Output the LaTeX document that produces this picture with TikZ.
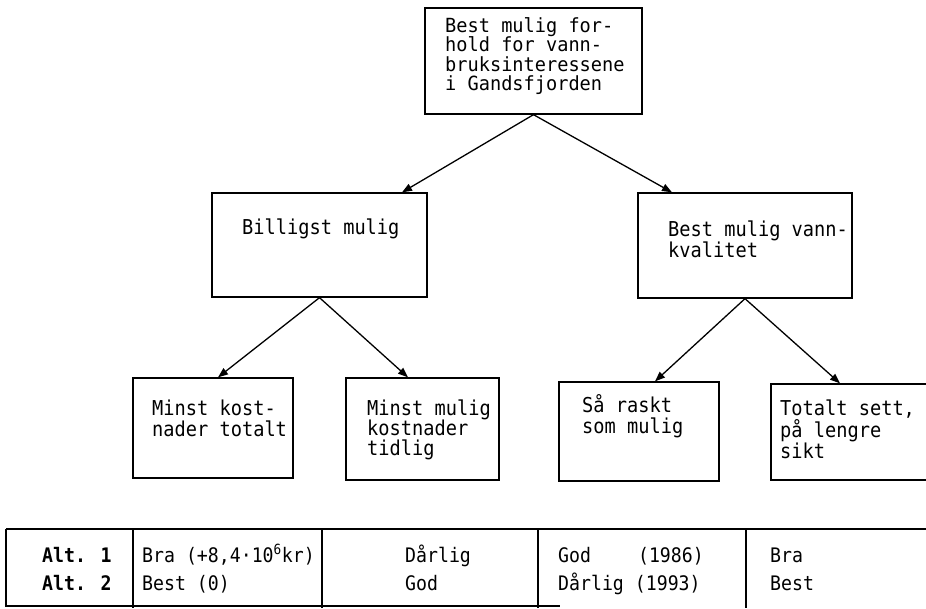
\documentclass[tikz,border=0pt]{standalone}
\usepackage{fontspec}
\setmonofont{DejaVu Sans Mono}
\newfontfamily\twbox{DejaVu Sans Mono}[FakeStretch=0.91]
\newfontfamily\twtop{DejaVu Sans Mono}[FakeStretch=0.955]
\usetikzlibrary{arrows.meta}
\begin{document}
\begin{tikzpicture}[x=1pt,y=-1pt,
  box/.style={draw, line width=1.3pt, inner sep=0pt},
  lbl/.style={align=left, anchor=north west, inner sep=0pt},
  cell/.style={anchor=base west, inner sep=0pt, font=\twbox\fontsize{20}{20}\selectfont},
  arr/.style={line width=1.3pt, -{Triangle[length=10pt,width=7.5pt]}},
  tabrule/.style={line width=1.2pt}]
\clip (0,0) rectangle (926,608);
\fill[white] (0,0) rectangle (926,608);
% boxes
\node[box, minimum width=217pt, minimum height=106pt] (top) at (533.5,61) {};
\node[box, minimum width=215pt, minimum height=104pt] (midL) at (319.5,245) {};
\node[box, minimum width=214pt, minimum height=105pt] (midR) at (745,245.5) {};
\node[box, minimum width=160pt, minimum height=100pt] (b1) at (213,428) {};
\node[box, minimum width=153pt, minimum height=102pt] (b2) at (422.5,429) {};
\node[box, minimum width=160pt, minimum height=99pt] (b3) at (639,431.5) {};
\node[box, minimum width=164pt, minimum height=96pt] (b4) at (853,432) {};
% box texts
\node[lbl, font=\twtop\fontsize{19.5}{19.5}\selectfont] (ttop) at (445,17.2)
  {Best mulig for-\\hold for vann-\\bruksinteressene\\i Gandsfjorden};
\node[lbl, font=\twbox\fontsize{20.5}{21}\selectfont] (tmidL) at (242,218.4) {Billigst mulig};
\node[lbl, font=\twbox\fontsize{20.5}{21}\selectfont] (tmidR) at (668,220.4) {Best mulig vann-\\kvalitet};
\node[lbl, font=\twbox\fontsize{20.5}{21}\selectfont] (tb1) at (152,399.4) {Minst kost-\\nader totalt};
\node[lbl, font=\twbox\fontsize{20.5}{20}\selectfont] (tb2) at (367,399.4) {Minst mulig\\kostnader\\tidlig};
\node[lbl, font=\twbox\fontsize{20.5}{21}\selectfont] (tb3) at (582,394.6) {Så raskt\\som mulig};
\node[lbl, font=\twbox\fontsize{20.5}{19.5}\selectfont] (tb4) at (780,399.4) {Totalt sett,\\på lengre\\sikt};
% connectors
\draw[arr] (top.south) -- ([xshift=82.5pt]midL.north);
\draw[arr] (top.south) -- ([xshift=-73pt]midR.north);
\draw[arr] (midL.south) -- ([xshift=5pt]b1.north);
\draw[arr] (midL.south) -- ([xshift=-14.5pt]b2.north);
\draw[arr] (midR.south) -- ([xshift=16pt]b3.north);
\draw[arr] (midR.south) -- ([xshift=-13pt]b4.north);
% table
\draw[tabrule] (6,529) -- (926,529);
\draw[tabrule] (6,529) -- (6,606) -- (560,606);
\draw[tabrule] (133,529) -- (133,608);
\draw[tabrule] (322,529) -- (322,608);
\draw[tabrule] (538,529) -- (538,608);
\draw[tabrule] (746,529) -- (746,608);
\node[cell, font=\twbox\bfseries\fontsize{20}{20}\selectfont] (a1) at (42,562) {Alt. 1};
\node[cell, font=\twbox\bfseries\fontsize{20}{20}\selectfont] (a2) at (42,590) {Alt. 2};
\node[cell] (c1) at (142,562) {Bra (+8,4·10\textsuperscript{6}kr)};
\node[cell] (c2) at (142,590) {Best (0)};
\node[cell] (d1) at (405,562) {Dårlig};
\node[cell] (d2) at (405,590) {God};
\node[cell] (e1) at (558,562) {God\hspace*{47pt}(1986)};
\node[cell] (e2) at (558,590) {Dårlig (1993)};
\node[cell] (f1) at (770,562) {Bra};
\node[cell] (f2) at (770,590) {Best};
\end{tikzpicture}
\end{document}
